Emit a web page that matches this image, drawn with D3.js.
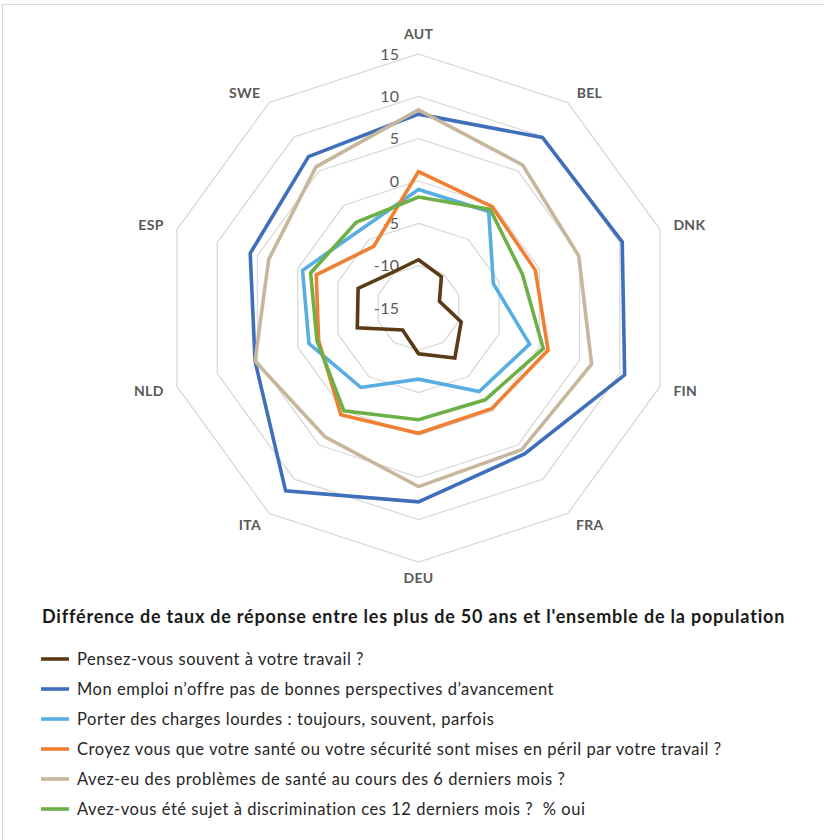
<!DOCTYPE html>
<html>
<head>
<meta charset="utf-8">
<script src="https://cdn.jsdelivr.net/npm/d3@7"></script>
<style>
    body { margin: 0; background: #fff; }
    svg { display: block; }
</style>
</head>
<body>
<svg id="svg1" width="824" height="840"></svg>
<script>
const countries = ["AUT", "BEL", "DNK", "FIN", "FRA", "DEU", "ITA", "NLD", "ESP", "SWE"];
const ticks = [-15, -10, -5, 0, 5, 10, 15];

const seriesNames = [
    "Pensez-vous souvent à votre travail ?",
    "Mon emploi n’offre pas de bonnes perspectives d’avancement",
    "Porter des charges lourdes : toujours, souvent, parfois",
    "Croyez vous que votre santé ou votre sécurité sont mises en péril par votre travail ?",
    "Avez-eu des problèmes de santé au cours des 6 derniers mois ?",
    "Avez-vous été sujet à discrimination ces 12 derniers mois ?  % oui"
];
const seriesColors = ["#5a3a17", "#3f6fba", "#58aee0", "#f07f32", "#c6b69c", "#6db048"];

const pensez = [-9.3, -10.4, -12.4, -9.7, -7.7, -9.6, -11.8, -7.4, -7.5, -9.8];
const emploi = [7.9, 9.9, 10.3, 10.6, 6.3, 7.9, 11.7, 5.3, 5.9, 7.1];
const charges = [-1.0, -0.9, -5.7, -1.2, -2.8, -6.6, -3.4, -1.4, -0.6, -3.5];
const peril = [1.1, -0.2, -0.5, 1.1, -0.3, -0.2, 0.6, -2.6, -2.3, -6.0];
const sante = [8.4, 5.9, 4.9, 6.5, 5.7, 6.1, 3.8, 5.3, 3.6, 5.6];
const discrim = [-1.9, -0.6, -2.1, 0.5, -1.6, -1.8, 0.0, -2.4, -1.6, -2.5];

const seriesValues = [pensez, emploi, charges, peril, sante, discrim];

const title = "Différence de taux de réponse entre les plus de 50 ans et l'ensemble de la population";

const drawRadar = function () {
    const svg = d3.select("#svg1");
    const font = "Lato, 'Open Sans', sans-serif";

    // chart area border (only top/left visible)
    svg.append("rect")
        .attr("x", 2.5)
        .attr("y", 4.5)
        .attr("width", 840)
        .attr("height", 860)
        .attr("fill", "none")
        .attr("stroke", "#d9d9d9")
        .attr("stroke-width", 1.2);

    const cx = 418.5;
    const cy = 308;
    const rScale = d3.scaleLinear().domain([-15, 15]).range([0, 254]);
    const angle = d3.scaleLinear().domain([0, countries.length]).range([0, 2 * Math.PI]);

    const g = svg.append("g").attr("transform", "translate(" + cx + "," + cy + ")");

    //rings
    const ringLine = d3.lineRadial()
        .angle((d, i) => angle(i))
        .radius((d) => rScale(d))
        .curve(d3.curveLinearClosed);

    g.selectAll("path.ring")
        .data(ticks.filter((t) => t > -15))
        .enter()
        .append("path")
        .attr("class", "ring")
        .attr("d", (t) => ringLine(countries.map(() => t)))
        .attr("fill", "none")
        .attr("stroke", "#d9d9d9")
        .attr("stroke-width", 1.3);

    //tick labels
    g.selectAll("text.tick")
        .data(ticks)
        .enter()
        .append("text")
        .attr("class", "tick")
        .attr("x", -19)
        .attr("y", (t) => -rScale(t))
        .attr("dy", "0.35em")
        .attr("text-anchor", "end")
        .attr("font-family", font)
        .attr("font-size", 16)
        .attr("letter-spacing", 0.4)
        .attr("fill", "#595959")
        .text((t) => t);

    //country labels
    g.selectAll("text.country")
        .data(countries)
        .enter()
        .append("text")
        .attr("class", "country")
        .each(function (d, i) {
            const a = angle(i);
            const s = Math.sin(a);
            const c = Math.cos(a);
            const dist = rScale(15) + 14 + 6 * Math.pow(Math.max(0, c), 8);
            d3.select(this)
                .attr("x", dist * s)
                .attr("y", -dist * c + (c < -0.99 ? 2 : 0) + (c > 0.5 && c < 0.99 ? 2.5 : 0))
                .attr("text-anchor", s > 0.1 ? "start" : s < -0.1 ? "end" : "middle");
        })
        .attr("dy", "0.35em")
        .attr("font-family", font)
        .attr("font-weight", "bold")
        .attr("font-size", 14)
        .attr("letter-spacing", 0.3)
        .attr("fill", "#595959")
        .text((d) => d);

    //series
    g.selectAll("path.series")
        .data(seriesValues)
        .enter()
        .append("path")
        .attr("class", "series")
        .attr("d", (vals) => ringLine(vals))
        .attr("fill", "none")
        .attr("stroke", (d, i) => seriesColors[i])
        .attr("stroke-width", 3.6)
        .attr("stroke-linejoin", "miter");

    //legend
    svg.append("text")
        .attr("x", 42)
        .attr("y", 617)
        .attr("dy", "0.35em")
        .attr("font-family", font)
        .attr("font-weight", "bold")
        .attr("font-size", 18)
        .attr("letter-spacing", 0.8)
        .attr("fill", "#1a1a1a")
        .text(title);

    const legendY = d3.scalePoint().domain(d3.range(seriesNames.length)).range([659, 809]);

    const items = svg.selectAll("g.legend")
        .data(seriesNames)
        .enter()
        .append("g")
        .attr("class", "legend")
        .attr("transform", (d, i) => "translate(0," + legendY(i) + ")");

    items.append("line")
        .attr("x1", 41)
        .attr("x2", 69)
        .attr("stroke", (d, i) => seriesColors[i])
        .attr("stroke-width", 3.6);

    items.append("text")
        .attr("x", 77)
        .attr("dy", "0.35em")
        .attr("font-family", font)
        .attr("font-size", 16.5)
        .attr("letter-spacing", 0.55)
        .attr("fill", "#262626")
        .style("white-space", "pre")
        .text((d) => d);
};
drawRadar();
</script>
</body>
</html>
